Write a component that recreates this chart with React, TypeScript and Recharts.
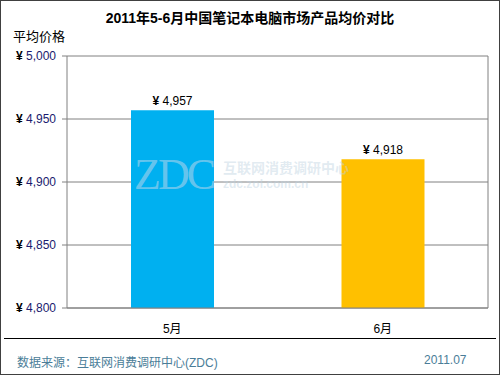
import React from "react";
import { BarChart, Bar, XAxis, YAxis, CartesianGrid, Cell, LabelList } from "recharts";

const months = ["5月", "6月"];
const avgPrices = [4957, 4918];
const barColors = ["#00B0F0", "#FFC000"];
const yTicks = [4800, 4850, 4900, 4950, 5000];

const data = months.map((m, i) => ({ month: m, price: avgPrices[i] }));

const fmt = (v: number) => v.toLocaleString("en-US");
const cjk = '"Liberation Sans", Arial, "Noto Sans CJK SC", sans-serif';

const YTick = (props: any) => {
  const { x, y, payload } = props;
  return (
    <text x={x - 4} y={y} dy={4} textAnchor="end" fontSize={12} fontFamily={cjk}>
      <tspan fill="#000" fontWeight="bold">¥ </tspan>
      <tspan fill="#1a1a6e">{fmt(payload.value)}</tspan>
    </text>
  );
};

const XTick = (props: any) => {
  const { x, y, payload } = props;
  return (
    <text x={x} y={y + 17} textAnchor="middle" fontSize={12} fontFamily={cjk} fill="#000">
      {payload.value}
    </text>
  );
};

const ValueLabel = (props: any) => {
  const { x, y, width, value } = props;
  return (
    <text x={x + width / 2} y={y - 5} textAnchor="middle" fontSize={12} fontFamily={cjk} fill="#000">
      <tspan fontWeight="bold">¥ </tspan>
      <tspan>{fmt(value)}</tspan>
    </text>
  );
};

export default function App() {
  return (
    <div
      style={{
        position: "fixed",
        top: 0,
        left: 0,
        width: 498,
        height: 373,
        border: "1px solid #404040",
        background: "#fff",
        fontFamily: cjk,
      }}
    >
      <div style={{ position: "absolute", top: 6, left: 0, width: 498, textAlign: "center", fontSize: 14, fontWeight: "bold" }}>
        2011年5-6月中国笔记本电脑市场产品均价对比
      </div>
      <div style={{ position: "absolute", top: 25, left: 12, fontSize: 13 }}>平均价格</div>
      <div style={{ position: "absolute", top: 0, left: 0 }}>
        <BarChart width={498} height={373} data={data} margin={{ top: 55, right: 10, left: 0, bottom: 36 }}>
          <CartesianGrid stroke="#808080" vertical={false} />
          <XAxis dataKey="month" stroke="#808080" tickLine={false} tick={<XTick />} height={30} />
          <YAxis
            domain={[4800, 5000]}
            ticks={yTicks}
            width={66}
            stroke="#808080"
            tickSize={5}
            tick={<YTick />}
          />
          <YAxis yAxisId="r" orientation="right" width={1} stroke="#808080" tick={false} tickLine={false} />
          <Bar dataKey="price" barSize={83} isAnimationActive={false}>
            {data.map((d, i) => (
              <Cell key={d.month} fill={barColors[i]} />
            ))}
            <LabelList dataKey="price" content={<ValueLabel />} />
          </Bar>
        </BarChart>
      </div>
      <div style={{ position: "absolute", top: 152, left: 133, fontSize: 44, lineHeight: 1, fontFamily: '"Liberation Serif", serif', color: "rgba(190,215,235,0.55)", letterSpacing: -3 }}>
        ZDC
      </div>
      <div style={{ position: "absolute", top: 160, left: 222, fontSize: 14, lineHeight: 1, fontWeight: "bold", color: "rgba(190,210,225,0.45)" }}>
        互联网消费调研中心
      </div>
      <div style={{ position: "absolute", top: 177, left: 222, fontSize: 12, lineHeight: 1, fontWeight: "bold", color: "rgba(190,210,225,0.45)" }}>
        zdc.zol.com.cn
      </div>
      <div style={{ position: "absolute", top: 337, left: 3, width: 492, borderTop: "1px solid #000" }} />
      <div style={{ position: "absolute", top: 352, left: 16, fontSize: 12, color: "#4A7D98" }}>
        数据来源：互联网消费调研中心(ZDC)
      </div>
      <div style={{ position: "absolute", top: 352, left: 423, fontSize: 12, color: "#4A7D98" }}>2011.07</div>
    </div>
  );
}
